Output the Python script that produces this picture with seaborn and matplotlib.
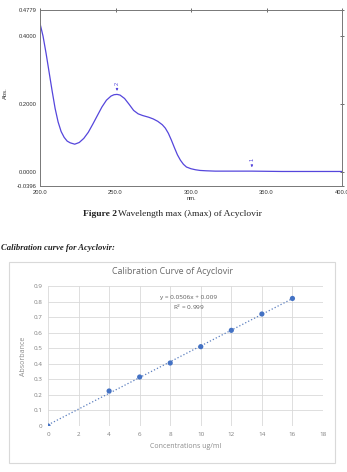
import matplotlib
matplotlib.use("Agg")
import matplotlib.pyplot as plt
from matplotlib.patches import Rectangle
import seaborn as sns
import pandas as pd

# UV spectrum of acyclovir
wavelength = [200, 202, 204, 206, 208, 210, 212, 214, 216, 218, 220, 223, 226, 229, 232, 235,
              238, 241, 244, 247, 249, 251, 253, 256, 259, 262, 265, 268, 272, 275, 278, 281,
              283, 285, 287, 289, 291, 293, 295, 297, 300, 303, 306, 310, 316, 330, 340, 360, 380, 400]
absorbance = [0.437, 0.400, 0.350, 0.295, 0.240, 0.188, 0.148, 0.120, 0.103, 0.092, 0.087, 0.083,
              0.088, 0.100, 0.118, 0.142, 0.167, 0.192, 0.212, 0.224, 0.228, 0.229, 0.227, 0.217,
              0.200, 0.182, 0.172, 0.167, 0.162, 0.157, 0.150, 0.140, 0.130, 0.115, 0.095, 0.073,
              0.052, 0.036, 0.024, 0.016, 0.011, 0.008, 0.006, 0.005, 0.004, 0.004, 0.004, 0.003,
              0.003, 0.003]
spec_yticks = [-0.0396, 0.0, 0.2, 0.4, 0.4779]
spec_xticks = [200, 250, 300, 350, 400]
peak_marks = [("2", 251, 0.229), ("1", 340.3, 0.005)]

# calibration data
conc = [0, 4, 6, 8, 10, 12, 14, 16]
absorb = [0.0, 0.225, 0.315, 0.405, 0.51, 0.615, 0.72, 0.82]
eq_text = "y = 0.0506x + 0.009\nR$^2$ = 0.999"

sns.set_theme(style="white")
plt.rcParams["font.family"] = ["Liberation Sans", "DejaVu Sans"]
serif = ["Liberation Serif", "DejaVu Serif"]
excel = ["Open Sans", "DejaVu Sans"]

fig = plt.figure(figsize=(3.47, 4.72), dpi=100)
W, H = 347, 472

# ---- spectrum ----
ax1 = fig.add_axes([40 / W, 1 - 186 / H, 302 / W, 176.5 / H])
spec = pd.DataFrame({"nm": wavelength, "abs": absorbance})
sns.lineplot(data=spec, x="nm", y="abs", ax=ax1, color="#5546dc", linewidth=0.9)
ax1.set_xlim(200, 400)
ax1.set_ylim(-0.0396, 0.4779)
ax1.set_xticks(spec_xticks)
ax1.set_xticklabels([f"{v:.1f}" for v in spec_xticks])
ax1.set_yticks(spec_yticks)
ax1.set_yticklabels([f"{v:.4f}" for v in spec_yticks])
ax1.tick_params(axis="both", labelsize=4.2, colors="#333333", length=2.5, width=0.5,
                direction="inout", pad=1.5, top=True, right=True)
ax1.tick_params(labeltop=False, labelright=False)
for s in ax1.spines.values():
    s.set_color("#777777")
    s.set_linewidth(0.7)
ax1.set_xlabel("nm.", fontsize=4.2, color="#333333", labelpad=1)
ax1.set_ylabel("")
fig.text(5 / W, 1 - 93 / H, "Abs.", rotation=90, fontsize=4.2, color="#333333",
         ha="center", va="center")
for lab, x, y in peak_marks:
    ax1.annotate("", xy=(x, y + 0.002), xytext=(x, y + 0.024),
                 arrowprops=dict(arrowstyle="-|>", color="#5546dc", lw=0.6,
                                 mutation_scale=3))
    ax1.text(x, y + 0.028, lab, rotation=90, fontsize=4, color="#5546dc",
             ha="center", va="bottom")

fig.text(83 / W, 1 - 214 / H, "Figure 2", fontsize=6.8, family=serif, fontweight="bold",
         ha="left", va="center", color="#222222")
fig.text(118 / W, 1 - 214 / H, "Wavelength max (λmax) of Acyclovir", fontsize=6.8,
         family=serif, ha="left", va="center", color="#222222")
fig.text(115 / W, 1 - 248 / H, "Calibration curve for Acyclovir:", fontsize=6.2,
         family=serif, style="italic", fontweight="bold",
         ha="right", va="center", color="#222222")

# ---- calibration chart ----
fig.patches.append(Rectangle((9 / W, 1 - 463 / H), 326 / W, 201 / H, transform=fig.transFigure,
                             fill=False, edgecolor="#d9d9d9", linewidth=0.8))
ax2 = fig.add_axes([48 / W, 1 - 426 / H, 275 / W, 140 / H])
cal = pd.DataFrame({"conc": conc, "abs": absorb})
sns.regplot(data=cal, x="conc", y="abs", ax=ax2, ci=None, scatter=False,
            line_kws=dict(color="#5b7fbf", linestyle=":", linewidth=0.9))
sns.scatterplot(data=cal, x="conc", y="abs", ax=ax2, color="#4472c4", s=14,
                edgecolor="none", zorder=3)
ax2.set_xlim(0, 18)
ax2.set_ylim(0, 0.9)
ax2.set_xticks(range(0, 19, 2))
ax2.set_yticks([i / 10 for i in range(10)])
ax2.set_yticklabels(["0"] + [f"{i / 10:g}" for i in range(1, 10)])
ax2.grid(True, color="#d9d9d9", linewidth=0.6)
ax2.set_axisbelow(True)
for s in ax2.spines.values():
    s.set_visible(False)
ax2.tick_params(axis="both", labelsize=4.5, colors="#7f7f7f", length=0, pad=4)
for t in ax2.get_xticklabels() + ax2.get_yticklabels():
    t.set_fontfamily(excel)
ax2.set_xlabel("Concentrations ug/ml", fontsize=5, color="#8c8c8c", family=excel, labelpad=5)
ax2.set_ylabel("Absorbance", fontsize=5, color="#8c8c8c", family=excel, labelpad=5)
ax2.text(9.2, 0.79, eq_text, fontsize=4.6, color="#595959", ha="center", va="center",
         family=excel, linespacing=1.4)
fig.text(173 / W, 1 - 271 / H, "Calibration Curve of Acyclovir", fontsize=6.4,
         color="#6a6a6a", ha="center", va="center", family=excel)

fig.savefig("out.png", dpi=100)
